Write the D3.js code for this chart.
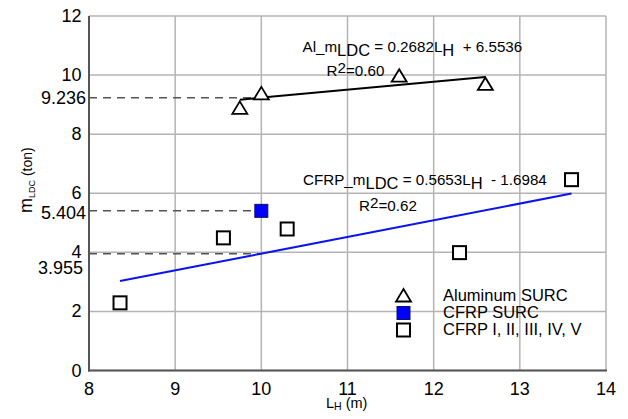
<!DOCTYPE html>
<html><head><meta charset="utf-8">
<script src="https://cdn.jsdelivr.net/npm/d3@7"></script>
<style>body{margin:0;background:#fff}svg{display:block}text{font-family:"Liberation Sans",Arial,sans-serif;white-space:pre}</style>
</head><body><svg id="c" width="628" height="419"></svg>
<script>
const xTicks = [8, 9, 10, 11, 12, 13, 14];
const yTicks = [0, 2, 4, 6, 8, 10, 12];
const alX = [9.75, 10.0, 11.6, 12.6];
const alY = [8.89, 9.38, 9.98, 9.70];
const surcX = [10.0];
const surcY = [5.404];
const cfrpX = [8.36, 9.56, 10.3, 12.3, 13.6];
const cfrpY = [2.29, 4.49, 4.79, 3.99, 6.46];
const alFit = {slope: 0.2682, intercept: 6.5536, x0: 9.75, x1: 12.6};
const cfrpFit = {slope: 0.5653, intercept: -1.6984, x0: 8.36, x1: 13.6};
const refX = 10;
const legendLabels = ["Aluminum SURC", "CFRP SURC", "CFRP I, II, III, IV, V"];

const svg = d3.select("#c");
const L = 89, R = 606, T = 16, B = 370.5;
const x = d3.scaleLinear().domain([8, 14]).range([L, R]);
const y = d3.scaleLinear().domain([0, 12]).range([B, T]);

// grid
const g = svg.append("g");
g.selectAll(".vx").data(xTicks).enter().append("line")
  .attr("x1", d => x(d)).attr("x2", d => x(d)).attr("y1", T).attr("y2", B)
  .attr("stroke", "#b4b4b4").attr("stroke-width", 1.5);
g.selectAll(".hy").data(yTicks).enter().append("line")
  .attr("y1", d => y(d)).attr("y2", d => y(d)).attr("x1", L).attr("x2", R)
  .attr("stroke", "#b4b4b4").attr("stroke-width", 1.5);
// axes
svg.append("line").attr("x1", L).attr("x2", L).attr("y1", T).attr("y2", B + 1).attr("stroke", "#555").attr("stroke-width", 2);
svg.append("line").attr("x1", L - 1).attr("x2", R + 1).attr("y1", B).attr("y2", B).attr("stroke", "#555").attr("stroke-width", 2);

// tick labels
svg.selectAll(".xt").data(xTicks).enter().append("text")
  .attr("x", d => x(d)).attr("y", 395).attr("text-anchor", "middle")
  .attr("font-size", 18).text(d => d);
svg.selectAll(".yt").data(yTicks).enter().append("text")
  .attr("x", 81.5).attr("y", d => y(d) + 6).attr("text-anchor", "end")
  .attr("font-size", 18).text(d => d);

// fitted values and reference dashed lines
const alRef = alFit.slope * refX + alFit.intercept;
const cfRef = cfrpFit.slope * refX + cfrpFit.intercept;
const refs = [{v: alRef, lab: alRef.toFixed(3), dx: 86, dy: 6.5},
              {v: surcY[0], lab: surcY[0].toFixed(3), dx: 86, dy: 8.5},
              {v: cfRef, lab: cfRef.toFixed(3), dx: 83, dy: 20.5}];
refs.forEach(r => {
  svg.append("line").attr("x1", L).attr("x2", x(refX)).attr("y1", y(r.v)).attr("y2", y(r.v))
    .attr("stroke", "#555").attr("stroke-width", 1.5).attr("stroke-dasharray", "8,6");
  svg.append("text").attr("x", r.dx).attr("y", y(r.v) + r.dy).attr("text-anchor", "end")
    .attr("font-size", 18).text(r.lab);
});

// regression lines
function fitLine(f, color) {
  svg.append("line")
    .attr("x1", x(f.x0)).attr("y1", y(f.slope * f.x0 + f.intercept))
    .attr("x2", x(f.x1)).attr("y2", y(f.slope * f.x1 + f.intercept))
    .attr("stroke", color).attr("stroke-width", 2);
}
fitLine(alFit, "#000");
fitLine(cfrpFit, "#0a14f0");

// markers
const tri = "M0,-6.5L7.5,6L-7.5,6Z";
function triangle(sel, cx, cy) {
  sel.append("path").attr("d", tri).attr("transform", `translate(${cx},${cy})`)
    .attr("fill", "#fff").attr("stroke", "#000").attr("stroke-width", 1.8);
}
function square(sel, cx, cy, fill) {
  sel.append("rect").attr("x", cx - 6.5).attr("y", cy - 6.5).attr("width", 13).attr("height", 13)
    .attr("fill", fill).attr("stroke", fill === "#fff" ? "#000" : "#101060").attr("stroke-width", fill === "#fff" ? 2 : 1);
}
alX.forEach((d, i) => triangle(svg, x(d), y(alY[i])));
cfrpX.forEach((d, i) => square(svg, x(d), y(cfrpY[i]), "#fff"));
surcX.forEach((d, i) => square(svg, x(d), y(surcY[i]), "#0000ff"));

// equations
function eq(px, py, parts) {
  const t = svg.append("text").attr("x", px).attr("y", py).attr("font-size", 15.2);
  parts.forEach(p => { const s = t.append("tspan").attr("dy", p[1]).text(p[0]); if (p[2]) s.attr("font-size", p[2]); });
}
eq(302.5, 51.5, [["Al_m", 0], ["LDC", 4, 16.5], [" = 0.2682L", -4], ["H", 4, 16.5], ["  + 6.5536", -4]]);
eq(326.5, 76, [["R", 0], ["2", -3], ["=0.60", 3]]);
eq(303, 185, [["CFRP_m", 0], ["LDC", 4, 16.5], [" = 0.5653L", -4], ["H", 4, 16.5], ["  - 1.6984", -4]]);
eq(359, 211, [["R", 0], ["2", -3], ["=0.62", 3]]);

// legend
const lg = svg.append("g");
triangle(lg, 403.5, 295.5);
square(lg, 403.5, 313, "#0000ff");
square(lg, 403.5, 330, "#fff");
legendLabels.forEach((s, i) => lg.append("text").attr("x", 443).attr("y", 300.7 + i * 17.2)
  .attr("font-size", 16.5).text(s));

// axis titles
const xt = svg.append("text").attr("x", 326).attr("y", 408).attr("font-size", 14.5);
xt.append("tspan").text("L");
xt.append("tspan").attr("font-size", 10.5).attr("dy", 1.5).text("H");
xt.append("tspan").attr("dy", -1.5).text(" (m)");
const yt = svg.append("text").attr("transform", "translate(32,213) rotate(-90)").attr("font-size", 18);
yt.append("tspan").text("m");
yt.append("tspan").attr("font-size", 9).attr("dy", 3).text("LDC");
yt.append("tspan").attr("font-size", 14).attr("dy", -3).text(" (ton)");
</script></body></html>
